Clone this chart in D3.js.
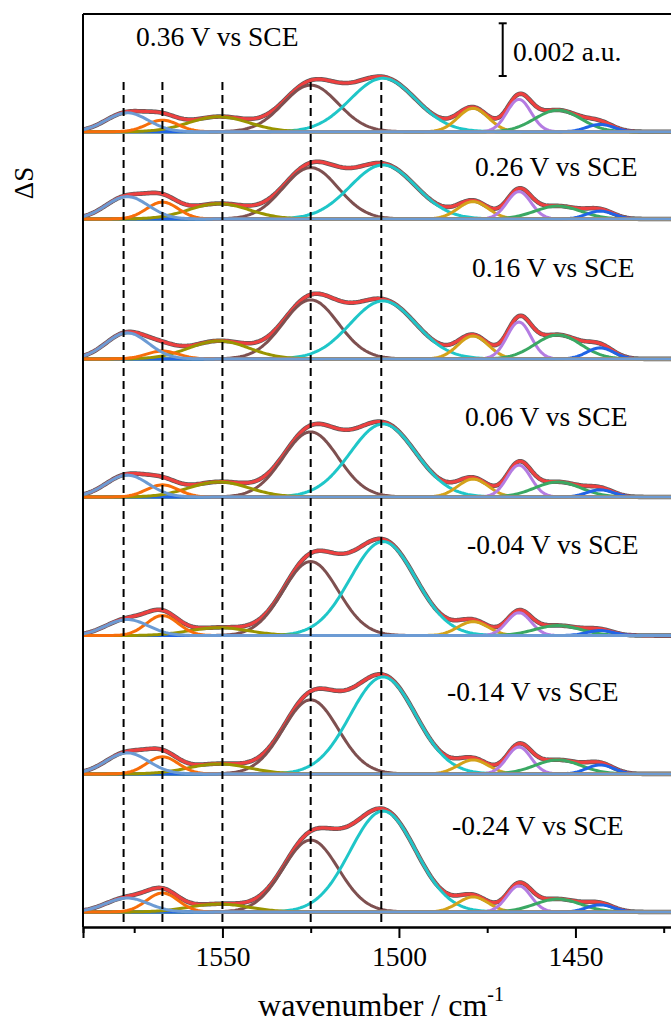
<!DOCTYPE html>
<html>
<head>
<meta charset="utf-8">
<script src="https://cdn.jsdelivr.net/npm/d3@7"></script>
<style>
  body { margin: 0; background: #fff; }
  svg { display: block; }
  text { font-family: "Liberation Serif", "Times New Roman", serif; fill: #000; }
</style>
</head>
<body>
<svg id="chart" width="671" height="1034"></svg>
<script>
// Potentials of the stacked spectra, top to bottom
const potentials = ["0.36 V vs SCE", "0.26 V vs SCE", "0.16 V vs SCE", "0.06 V vs SCE",
                    "-0.04 V vs SCE", "-0.14 V vs SCE", "-0.24 V vs SCE"];
// Vertical offset of each spectrum (a.u.)
const offsets = [0.02961, 0.02630, 0.02099, 0.01575, 0.01049, 0.00524, 0];

// Fitted Gaussian bands: centre (cm-1), standard deviation (cm-1), colour
const bandCenters = [1577, 1567, 1551, 1525, 1504.5, 1479, 1466, 1455, 1443];
const bandSigmas  = [6.0, 4.5, 8.5, 7.8, 9.3, 4.3, 3.4, 6.5, 3.8];
const bandColors  = ["#6c9bd4", "#f76d0a", "#999400", "#7e5050", "#1fc6c8",
                     "#d4a21a", "#b47ce2", "#3aa863", "#2064e6"];

// Band heights (a.u.) at each potential, same band order as above
const h036 = [0.00072, 0.00044, 0.00057, 0.00177, 0.00203, 0.00089, 0.00123, 0.00082, 0.00028];
const h026 = [0.00085, 0.00064, 0.00058, 0.00195, 0.00205, 0.00066, 0.00104, 0.00049, 0.00030];
const h016 = [0.00099, 0.00030, 0.00068, 0.00224, 0.00220, 0.00087, 0.00140, 0.00091, 0.00042];
const h006 = [0.00083, 0.00046, 0.00057, 0.00247, 0.00277, 0.00068, 0.00121, 0.00057, 0.00027];
const hm004 = [0.00061, 0.00076, 0.00030, 0.00281, 0.00357, 0.00053, 0.00087, 0.00038, 0.00019];
const hm014 = [0.00080, 0.00065, 0.00038, 0.00281, 0.00368, 0.00053, 0.00102, 0.00053, 0.00034];
const hm024 = [0.00053, 0.00072, 0.00030, 0.00273, 0.00383, 0.00057, 0.00099, 0.00049, 0.00027];
const bandHeights = [h036, h026, h016, h006, hm004, hm014, hm024];

// Marked band positions (dashed guides)
const guideLines = [1578, 1567, 1550, 1525, 1505];
// Axis ticks
const majorTicks = [1550, 1500, 1450];
const minorTicks = [1575, 1525, 1475, 1425];
const scaleBarValue = 0.002;

const svg = d3.select("#chart");
const plotLeft = 83, plotTop = 14, plotBottom = 927;

const x = d3.scaleLinear().domain([1589.5, 1420]).range([plotLeft, plotLeft + 169.5 * 3.53]);
const y = d3.scaleLinear().domain([-0.00057, 0.03408]).range([plotBottom, plotTop]);

const grid = d3.range(1589.5, 1419.9, -0.5);
const gauss = (w, c, s, h) => h * Math.exp(-((w - c) ** 2) / (2 * s * s));

// draw order of the bands (light blue on top)
const drawOrder = [3, 4, 5, 6, 7, 8, 2, 1, 0];

const plot = svg.append("g");

bandHeights.forEach((hs, p) => {
  const off = offsets[p];
  const g = plot.append("g");
  const line = d3.line().x(d => x(d[0])).y(d => y(d[1] + off));
  const sum = grid.map(w => [w, d3.sum(bandCenters, (c, i) => gauss(w, c, bandSigmas[i], hs[i]))]);

  // measured spectrum and cumulative fit
  g.append("path").attr("d", line(sum)).attr("fill", "none")
    .attr("stroke", "#5a5a5a").attr("stroke-width", 4.6).attr("stroke-linejoin", "round");
  g.append("path").attr("d", line(sum)).attr("fill", "none")
    .attr("stroke", "#ee4040").attr("stroke-width", 3.2).attr("stroke-linejoin", "round");

  drawOrder.forEach(i => {
    const pts = grid.map(w => [w, gauss(w, bandCenters[i], bandSigmas[i], hs[i])]);
    g.append("path").attr("d", line(pts)).attr("fill", "none")
      .attr("stroke", bandColors[i]).attr("stroke-width", 3).attr("stroke-linejoin", "round");
  });
});

// dashed guides
svg.append("g").selectAll("line").data(guideLines).join("line")
  .attr("x1", d => x(d)).attr("x2", d => x(d))
  .attr("y1", y(0.0315)).attr("y2", plotBottom)
  .attr("stroke", "#000").attr("stroke-width", 2).attr("stroke-dasharray", "8,5");

// frame: top line and left axis
svg.append("line").attr("x1", plotLeft).attr("x2", 671).attr("y1", plotTop).attr("y2", plotTop)
  .attr("stroke", "#000").attr("stroke-width", 2);
svg.append("line").attr("x1", plotLeft).attr("x2", plotLeft).attr("y1", plotTop).attr("y2", plotBottom)
  .attr("stroke", "#000").attr("stroke-width", 2);

// bottom axis
const minorAxis = d3.axisBottom(x).tickValues(minorTicks).tickSize(6).tickFormat("");
const majorAxis = d3.axisBottom(x).tickValues(majorTicks).tickSize(11).tickPadding(8).tickFormat(d3.format("d"));
const gMinor = svg.append("g").attr("transform", `translate(0,${plotBottom})`).call(minorAxis);
const gMajor = svg.append("g").attr("transform", `translate(0,${plotBottom})`).call(majorAxis);
[gMinor, gMajor].forEach(g => {
  g.select(".domain").attr("stroke-width", 2).attr("stroke", "#000");
  g.selectAll(".tick line").attr("stroke-width", 2).attr("stroke", "#000");
});
gMajor.selectAll(".tick text").style("font-family", '"Liberation Serif", serif')
  .style("font-size", "27.5px").attr("fill", "#000");

// axis titles
const xt = svg.append("text").attr("x", 381).attr("y", 1016).attr("text-anchor", "middle")
  .style("font-size", "32px");
xt.append("tspan").text("wavenumber / cm");
xt.append("tspan").attr("dy", -15).style("font-size", "20px").text("-1");

svg.append("text").attr("transform", "translate(33,183) rotate(-90)")
  .attr("text-anchor", "middle").style("font-size", "27px").text("\u0394S");

// potential labels
const labelPos = [[136, 46], [475, 176], [472, 277], [465, 426], [467, 554], [447, 701], [452, 835]];
svg.append("g").selectAll("text").data(potentials).join("text")
  .attr("x", (d, i) => labelPos[i][0]).attr("y", (d, i) => labelPos[i][1])
  .style("font-size", "27.5px").text(d => d);

// scale bar
const barX = 502.7, barBottom = 76;
const barTop = barBottom - (y(0) - y(scaleBarValue));
const sb = svg.append("g").attr("stroke", "#000").attr("stroke-width", 2);
sb.append("line").attr("x1", barX).attr("x2", barX).attr("y1", barTop).attr("y2", barBottom);
sb.append("line").attr("x1", barX - 4).attr("x2", barX + 4).attr("y1", barTop).attr("y2", barTop);
sb.append("line").attr("x1", barX - 4).attr("x2", barX + 4).attr("y1", barBottom).attr("y2", barBottom);
svg.append("text").attr("x", 513).attr("y", 61).style("font-size", "27.5px").text("0.002 a.u.");
</script>
</body>
</html>
